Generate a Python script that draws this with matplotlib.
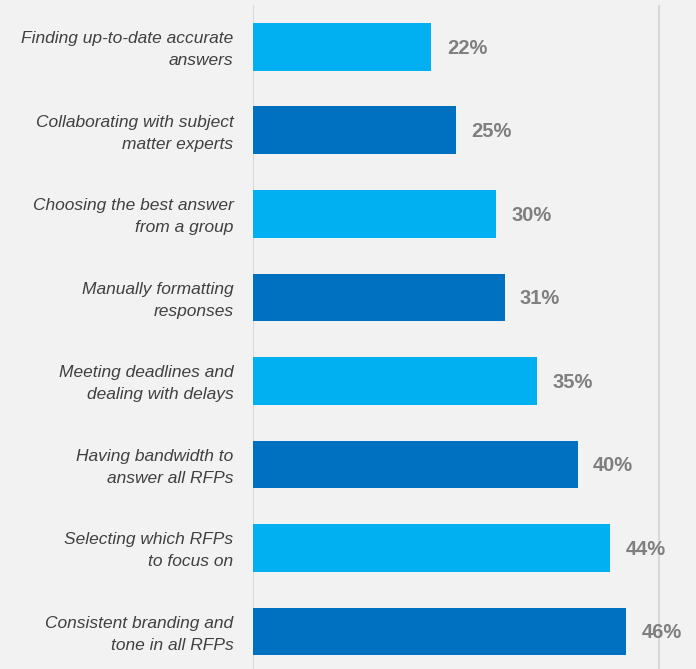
import matplotlib
matplotlib.use('Agg')
from matplotlib import pyplot as plt

categories = ['Finding up-to-date accurate\nanswers',
              'Collaborating with subject\nmatter experts',
              'Choosing the best answer\nfrom a group',
              'Manually formatting\nresponses',
              'Meeting deadlines and\ndealing with delays',
              'Having bandwidth to\nanswer all RFPs',
              'Selecting which RFPs\nto focus on',
              'Consistent branding and\ntone in all RFPs']
values = [22, 25, 30, 31, 35, 40, 44, 46]
colors = ['#00b0f0', '#0070c0'] * 4

plt.rcParams['font.family'] = ['Liberation Sans', 'DejaVu Sans']

fig = plt.figure(figsize=(6.96, 6.69), dpi=100, facecolor='#f2f2f2')
W, H = 696, 669
ax = fig.add_axes([253 / W, 0, (696 - 253) / W, (669 - 5) / H])
ax.set_facecolor('#f2f2f2')

ypos = list(range(len(values)))
ax.barh(ypos, values, height=0.57, color=colors, zorder=2)
ax.set_xlim(0, 54.6)
ax.set_ylim(7.45, -0.5)

for x in (0, 50):
    ax.axvline(x, color='#d9d9d9', lw=1.5, zorder=1)

for y, v in zip(ypos, values):
    ax.annotate(f'{v}%', xy=(v, y), xytext=(11, -1), textcoords='offset points',
                va='center', ha='left', fontsize=14.5, fontweight='bold',
                color='#7f7f7f')

ax.set_yticks(ypos)
ax.set_yticklabels(categories, fontsize=12.5, style='italic', color='#404040',
                   linespacing=1.6, va='center')
for lbl in ax.get_yticklabels():
    lbl.set_y(lbl.get_position()[1])
ax.tick_params(axis='y', length=0, pad=14)
ax.set_xticks([])
for s in ax.spines.values():
    s.set_visible(False)

# nudge labels slightly downward like the reference
import matplotlib.transforms as mtransforms
offset = mtransforms.ScaledTranslation(0, -3 / 100, fig.dpi_scale_trans)
for lbl in ax.get_yticklabels():
    lbl.set_transform(lbl.get_transform() + offset)

fig.savefig('out.png', dpi=100, facecolor=fig.get_facecolor())
